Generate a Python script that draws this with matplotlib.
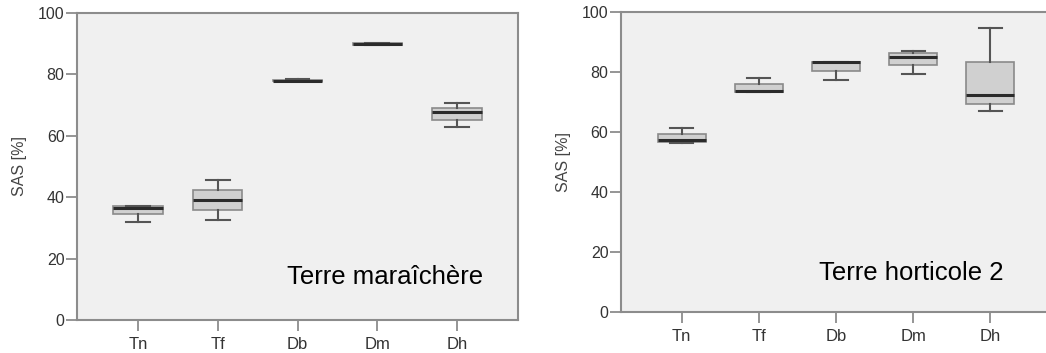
import matplotlib
matplotlib.use("Agg")
import matplotlib.pyplot as plt

plt.rcParams['font.family'] = ['Liberation Sans', 'DejaVu Sans']

traitements = ["Tn", "Tf", "Db", "Dm", "Dh"]

# min, q1, mediane, q3, max
mar_min = [31.8, 32.5, 77.7, 89.6, 62.9]
mar_q1 = [34.4, 35.8, 77.7, 89.7, 65.3]
mar_med = [36.5, 39.2, 77.9, 90.0, 67.7]
mar_q3 = [37.0, 42.3, 78.2, 90.1, 69.2]
mar_max = [37.1, 45.6, 78.5, 90.2, 70.7]

hor_min = [56.2, 73.4, 77.5, 79.2, 67.0]
hor_q1 = [56.7, 73.4, 80.5, 82.2, 69.5]
hor_med = [57.4, 73.7, 83.3, 85.1, 72.2]
hor_q3 = [59.5, 76.0, 83.5, 86.2, 83.5]
hor_max = [61.4, 78.1, 83.5, 87.1, 94.8]


def stats(mn, q1, med, q3, mx):
    return [dict(whislo=a, q1=b, med=c, q3=d, whishi=e, fliers=[], label=l)
            for a, b, c, d, e, l in zip(mn, q1, med, q3, mx, traitements)]


def panneau(ax, st, titre, xlim, tx, ty):
    ax.set_facecolor("#f0f0f0")
    ax.bxp(st, positions=range(1, 6), widths=0.62, patch_artist=True,
           showfliers=False,
           boxprops=dict(facecolor="#d0d0d0", edgecolor="#8a8a8a", linewidth=1.2),
           medianprops=dict(color="#2b2b2b", linewidth=2.2),
           whiskerprops=dict(color="#555555", linewidth=1.5),
           capprops=dict(color="#555555", linewidth=1.5),
           capwidths=0.3)
    ax.set_xlim(*xlim)
    ax.set_ylim(0, 100)
    ax.set_yticks([0, 20, 40, 60, 80, 100])
    ax.set_xticks(range(1, 6))
    ax.set_xticklabels(traitements)
    for s in ax.spines.values():
        s.set_color("#8c8c8c")
        s.set_linewidth(1.5)
    ax.tick_params(length=8, width=1.3, color="#8c8c8c", labelcolor="#333333",
                   labelsize=11.5)
    ax.tick_params(axis="y", pad=1)
    ax.tick_params(axis="x", pad=4, labelsize=12)
    ax.set_ylabel("SAS [%]", fontsize=11.5, color="#444444", labelpad=8)
    ax.text(tx, ty, titre, transform=ax.transAxes, fontsize=18.5,
            color="black", ha="right", va="center")


fig = plt.figure(figsize=(10.46, 3.53), dpi=100)
ax1 = fig.add_axes([77 / 1046, 33 / 353, 441 / 1046, 307 / 353])
ax2 = fig.add_axes([621 / 1046, 41 / 353, 430 / 1046, 300 / 353])

panneau(ax1, stats(mar_min, mar_q1, mar_med, mar_q3, mar_max),
        "Terre maraîchère", (0.2375, 5.7625), 0.92, 0.14)
panneau(ax2, stats(hor_min, hor_q1, hor_med, hor_q3, hor_max),
        "Terre horticole 2", (0.214, 5.786), 0.89, 0.13)

fig.savefig("out.png", dpi=100)
